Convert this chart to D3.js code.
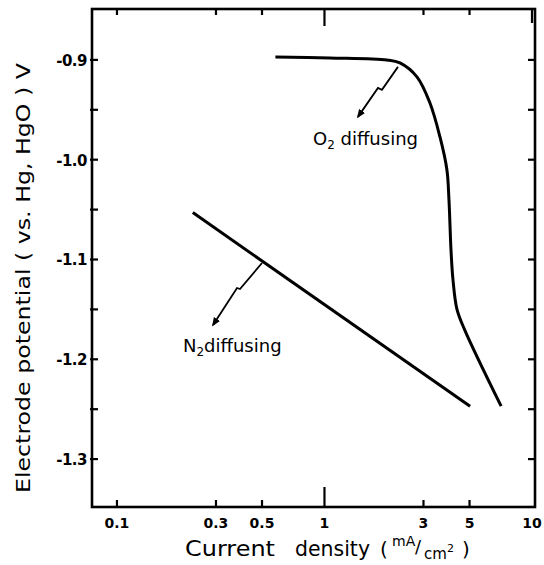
<!DOCTYPE html>
<html>
<head>
<meta charset="utf-8">
<script src="https://cdn.jsdelivr.net/npm/d3@7"></script>
<style>
  body { margin: 0; background: #fff; }
  svg { display: block; font-family: "DejaVu Sans", sans-serif; }
</style>
</head>
<body>
<svg id="chart" width="544" height="565"></svg>
<script>
// x: current density (mA/cm2), y: electrode potential (V vs Hg,HgO)
const o2Current   = [0.58, 1.06, 2.0, 2.31, 2.79, 3.22, 3.60, 3.89, 3.98, 4.07, 4.16, 4.35, 4.75, 7.1];
const o2Potential = [-0.897, -0.898, -0.900, -0.903, -0.917, -0.943, -0.977, -1.010, -1.040, -1.090, -1.120, -1.150, -1.171, -1.247];
const n2Current   = [0.232, 5.03];
const n2Potential = [-1.053, -1.247];

const xTicks = [0.1, 0.3, 0.5, 1, 3, 5, 10];
const xTickLabels = ["0.1", "0.3", "0.5", "1", "3", "5", "10"];
const yTicks = [-0.9, -1.0, -1.1, -1.2, -1.3];
const yTickLabels = ["-0.9", "-1.0", "-1.1", "-1.2", "-1.3"];
const yMinorTicks = [-0.95, -1.05, -1.15, -1.25];

const width = 544, height = 565;
const frame = { left: 92, right: 535, top: 9, bottom: 507 };

const svg = d3.select("#chart");

const x = d3.scaleLog().domain([0.0758, 10.34]).range([frame.left, frame.right]);
const y = d3.scaleLinear().domain([-0.849, -1.348]).range([frame.top, frame.bottom]);

// frame
svg.append("rect")
    .attr("x", frame.left).attr("y", frame.top)
    .attr("width", frame.right - frame.left).attr("height", frame.bottom - frame.top)
    .attr("fill", "none").attr("stroke", "#000").attr("stroke-width", 2.6);

const ticks = svg.append("g").attr("stroke", "#000").attr("stroke-width", 2.2);

// left axis ticks (inward, slightly crossing)
[...yTicks, ...yMinorTicks].forEach(v => {
    ticks.append("line")
        .attr("x1", frame.left - 2).attr("x2", frame.left + 6)
        .attr("y1", y(v)).attr("y2", y(v));
});
// right axis ticks
[...yTicks, ...yMinorTicks].forEach(v => {
    ticks.append("line")
        .attr("x1", frame.right - 7).attr("x2", frame.right)
        .attr("y1", y(v)).attr("y2", y(v));
});
// bottom + top ticks
xTicks.forEach(v => {
    const big = v === 1;
    if (v !== 10) {
        ticks.append("line")
            .attr("x1", x(v)).attr("x2", x(v))
            .attr("y1", frame.bottom - (big ? 20 : 7)).attr("y2", frame.bottom);
    }
    ticks.append("line")
        .attr("x1", x(v)).attr("x2", x(v))
        .attr("y1", frame.top).attr("y2", frame.top + (big ? 17 : (v === 10 ? 14 : 6)));
});

// tick labels
svg.append("g").selectAll("text")
    .data(yTicks)
    .join("text")
    .attr("x", frame.left - 5)
    .attr("y", d => y(d) + 6)
    .attr("text-anchor", "end")
    .attr("font-size", 15)
    .attr("font-weight", "bold")
    .attr("letter-spacing", -0.5)
    .text((d, i) => yTickLabels[i]);

svg.append("g").selectAll("text")
    .data(xTicks)
    .join("text")
    .attr("x", d => x(d))
    .attr("y", frame.bottom + 21)
    .attr("text-anchor", "middle")
    .attr("font-size", 14)
    .attr("font-weight", "bold")
    .text((d, i) => xTickLabels[i]);

// axis titles
svg.append("text")
    .attr("transform", `translate(30,278) rotate(-90)`)
    .attr("text-anchor", "middle")
    .attr("font-size", 19)
    .attr("textLength", 430)
    .attr("lengthAdjust", "spacingAndGlyphs")
    .text("Electrode potential ( vs. Hg, HgO ) V");

const xt = svg.append("g").attr("font-size", 22);
xt.append("text").attr("x", 185).attr("y", 556)
    .attr("textLength", 90).attr("lengthAdjust", "spacingAndGlyphs").text("Current");
xt.append("text").attr("x", 295).attr("y", 556)
    .attr("textLength", 75).attr("lengthAdjust", "spacingAndGlyphs").text("density");
xt.append("text").attr("x", 380).attr("y", 556).attr("font-size", 20).text("(");
xt.append("text").attr("x", 392).attr("y", 546).attr("font-size", 14).text("mA");
xt.append("text").attr("x", 415).attr("y", 553).attr("font-size", 18).text("/");
xt.append("text").attr("x", 424).attr("y", 559).attr("font-size", 15).text("cm");
xt.append("text").attr("x", 447).attr("y", 552).attr("font-size", 11).text("2");
xt.append("text").attr("x", 462).attr("y", 556).attr("font-size", 20).text(")");

// curves
const line = d3.line()
    .x(d => x(d[0]))
    .y(d => y(d[1]))
    .curve(d3.curveCatmullRom.alpha(0.5));

svg.append("path")
    .datum(o2Current.map((c, i) => [c, o2Potential[i]]))
    .attr("d", line)
    .attr("fill", "none").attr("stroke", "#000").attr("stroke-width", 3);

svg.append("path")
    .datum(n2Current.map((c, i) => [c, n2Potential[i]]))
    .attr("d", d3.line().x(d => x(d[0])).y(d => y(d[1])))
    .attr("fill", "none").attr("stroke", "#000").attr("stroke-width", 3);

// annotation arrows (zigzag leaders)
svg.append("defs").append("marker")
    .attr("id", "tip")
    .attr("viewBox", "0 0 10 10")
    .attr("refX", 8).attr("refY", 5)
    .attr("markerWidth", 5).attr("markerHeight", 5)
    .attr("orient", "auto")
    .append("path").attr("d", "M0,1 L10,5 L0,9 Z").attr("fill", "#000");

function leader(cur, pot, offsets) {
    const x0 = x(cur), y0 = y(pot);
    const pts = [[x0, y0], ...offsets.map(o => [x0 + o[0], y0 + o[1]])];
    svg.append("path")
        .attr("d", d3.line()(pts))
        .attr("fill", "none").attr("stroke", "#000").attr("stroke-width", 1.8)
        .attr("marker-end", "url(#tip)");
}
leader(2.26, -0.907, [[-16, 23], [-20, 21], [-40, 50]]);
leader(0.5, -1.1035, [[-22, 26], [-25, 25], [-49, 62]]);

// labels
const o2 = svg.append("text").attr("x", 313).attr("y", 145).attr("font-size", 18);
o2.append("tspan").text("O");
o2.append("tspan").attr("font-size", 12).attr("dy", 4).text("2");
o2.append("tspan").attr("dy", -4).text(" diffusing");

const n2 = svg.append("text").attr("x", 183).attr("y", 352).attr("font-size", 18);
n2.append("tspan").text("N");
n2.append("tspan").attr("font-size", 12).attr("dy", 4).text("2");
n2.append("tspan").attr("dy", -4).text("diffusing");
</script>
</body>
</html>
